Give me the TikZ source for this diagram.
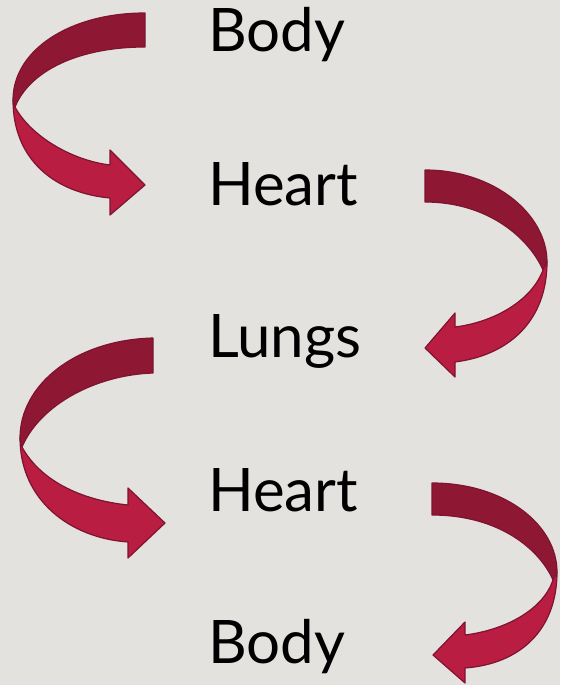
\documentclass[tikz,border=0pt]{standalone}
\usepackage{fontspec}
\setmainfont{Lato}
\definecolor{bgc}{HTML}{E4E2DE}
\definecolor{darkband}{HTML}{8E1734}
\definecolor{lightband}{HTML}{B91D41}
\definecolor{edgec}{HTML}{7E1430}
\tikzset{
  back/.style={fill=darkband, draw=edgec, line width=1.2pt, line join=round},
  front/.style={fill=lightband, draw=edgec, line width=1.2pt, line join=round},
  word/.style={inner sep=0pt, anchor=base west, font=\fontsize{60}{60}\selectfont, text=black}
}
\begin{document}
\begin{tikzpicture}[x=1pt,y=-1pt]
\fill[bgc] (0,0) rectangle (560,685);
\useasboundingbox (0,0) rectangle (560,685);
% labels
\node[word] (body1) at (208,52) {Body};
\node[word] (heart1) at (208,205) {Heart};
\node[word] (lungs) at (208,357) {Lungs};
\node[word] (heart2) at (208,511) {Heart};
\node[word] (body2) at (208,663) {Body};
% arrow 1 (left)
\draw[back] (145,13) .. controls (70,13) and (13,50) .. (13,100) -- (15,107) .. controls (30,70) and (80,47) .. (145,47) -- cycle;
\draw[front] (13,100) .. controls (13,160) and (55,193) .. (110,198) -- (110,215) -- (145,185) -- (110,150) -- (110,165) .. controls (70,160) and (30,135) .. (15,107) -- cycle;
% arrow 2 (right)
\draw[back] (425,170) .. controls (495,170) and (547,215) .. (547,262) -- (543,270) .. controls (530,240) and (490,202) .. (425,202) -- cycle;
\draw[front] (547,262) .. controls (547,320) and (510,355) .. (455,362) -- (455,377) -- (425,348) -- (455,313) -- (455,327) .. controls (495,322) and (532,300) .. (543,270) -- cycle;
% arrow 3 (left)
\draw[back] (153,338) .. controls (75,340) and (20,385) .. (20,438) -- (22,447) .. controls (40,405) and (95,375) .. (153,373) -- cycle;
\draw[front] (20,438) .. controls (20,500) and (70,538) .. (128,542) -- (128,558) -- (165,523) -- (128,488) -- (128,505) .. controls (80,500) and (40,480) .. (22,447) -- cycle;
% arrow 4 (right)
\draw[back] (432,483) .. controls (505,483) and (557,525) .. (557,572) -- (553,580) .. controls (540,550) and (500,515) .. (432,515) -- cycle;
\draw[front] (557,572) .. controls (557,630) and (520,664) .. (465,668) -- (465,683) -- (433,655) -- (465,622) -- (465,635) .. controls (505,630) and (543,610) .. (553,580) -- cycle;
\end{tikzpicture}
\end{document}
